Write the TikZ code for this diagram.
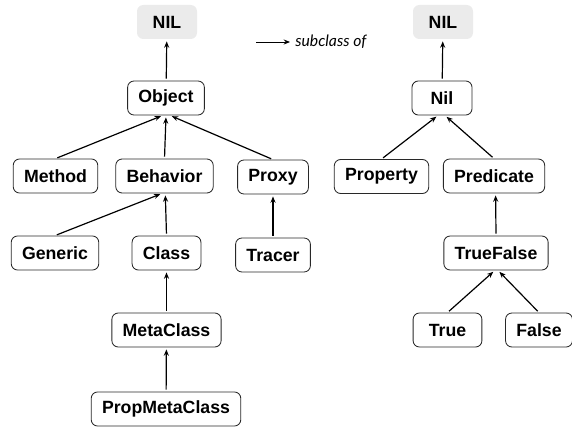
\documentclass[tikz,border=0pt]{standalone}
\usepackage{fontspec}
\newfontfamily\boxfont{Liberation Sans}
\newfontfamily\legendfont{Lato}
\usetikzlibrary{arrows.meta, positioning}
\definecolor{nilgray}{RGB}{235, 235, 235}
\definecolor{boxedge}{RGB}{40, 40, 40}
\tikzset{
  classbox/.style={draw=boxedge, line width=0.6pt, rounded corners=4.5pt, fill=white,
    minimum height=0.85cm, minimum width=1.5cm, inner xsep=0.27cm,
    font=\boxfont\bfseries\fontsize{12.6}{14}\selectfont},
  rootbox/.style={classbox, draw=none, fill=nilgray},
  subarrow/.style={-{Stealth[length=4.5pt, width=3.6pt]}, line width=0.85pt,
    shorten <=0.05cm, shorten >=0.05cm}
}

\begin{document}
\begin{tikzpicture}
  \useasboundingbox (0,0) rectangle (14.3,10.675);

  % left hierarchy
  \node[rootbox] (nilA) at (4.175, 10.125) {NIL};
  \node[classbox] (obj) at (4.15, 8.225) {Object};
  \node[classbox] (method) at (1.3875, 6.275) {Method};
  \node[classbox] (behav) at (4.1125, 6.275) {Behavior};
  \node[classbox] (proxy) at (6.825, 6.25) {Proxy};
  \node[classbox] (generic) at (1.375, 4.35) {Generic};
  \node[classbox] (class) at (4.1625, 4.35) {Class};
  \node[classbox] (tracer) at (6.825, 4.3) {Tracer};
  \node[classbox] (meta) at (4.1625, 2.425) {MetaClass};
  \node[classbox] (propmeta) at (4.15, 0.45) {PropMetaClass};

  % right hierarchy
  \node[rootbox] (nilB) at (11.075, 10.125) {NIL};
  \node[classbox] (nil) at (11.05, 8.225) {Nil};
  \node[classbox] (prop) at (9.5375, 6.2625) {Property};
  \node[classbox] (pred) at (12.35, 6.275) {Predicate};
  \node[classbox] (tf) at (12.4, 4.35) {TrueFalse};
  \node[classbox, minimum width=1.72cm] (true) at (11.1875, 2.425) {True};
  \node[classbox] (false) at (13.475, 2.425) {False};

  % legend
  \coordinate (legA) at (6.4, 9.625);
  \coordinate (legB) at (7.25, 9.625);
  \node[anchor=west, inner sep=0pt, font=\legendfont\itshape\fontsize{11.2}{13}\selectfont] (legtext) at (7.375, 9.625) {subclass of};
  \draw[subarrow, line width=0.7pt, shorten <=0pt, shorten >=0pt] (legA) -- (legB);

  % subclass links
  \draw[subarrow] (obj) -- (nilA);
  \draw[subarrow] (method.north) -- ([xshift=-0.08cm]obj.south);
  \draw[subarrow] (behav.north) -- (obj.south);
  \draw[subarrow] (proxy.north) -- ([xshift=0.1cm]obj.south);
  \draw[subarrow] (generic.north) -- ([xshift=-0.06cm]behav.south);
  \draw[subarrow] (class.north) -- ([xshift=0.02cm]behav.south);
  \draw[subarrow] (tracer) -- (proxy);
  \draw[subarrow] (meta) -- (class);
  \draw[subarrow] (propmeta) -- (meta);

  \draw[subarrow] (nil) -- (nilB);
  \draw[subarrow] (prop.north) -- ([xshift=-0.1cm]nil.south);
  \draw[subarrow] (pred.north) -- ([xshift=0.075cm]nil.south);
  \draw[subarrow] (tf.north) -- ([xshift=0.04cm]pred.south);
  \draw[subarrow] (true.north) -- ([xshift=-0.03cm]tf.south);
  \draw[subarrow] (false.north) -- ([xshift=0.05cm]tf.south);
\end{tikzpicture}
\end{document}
